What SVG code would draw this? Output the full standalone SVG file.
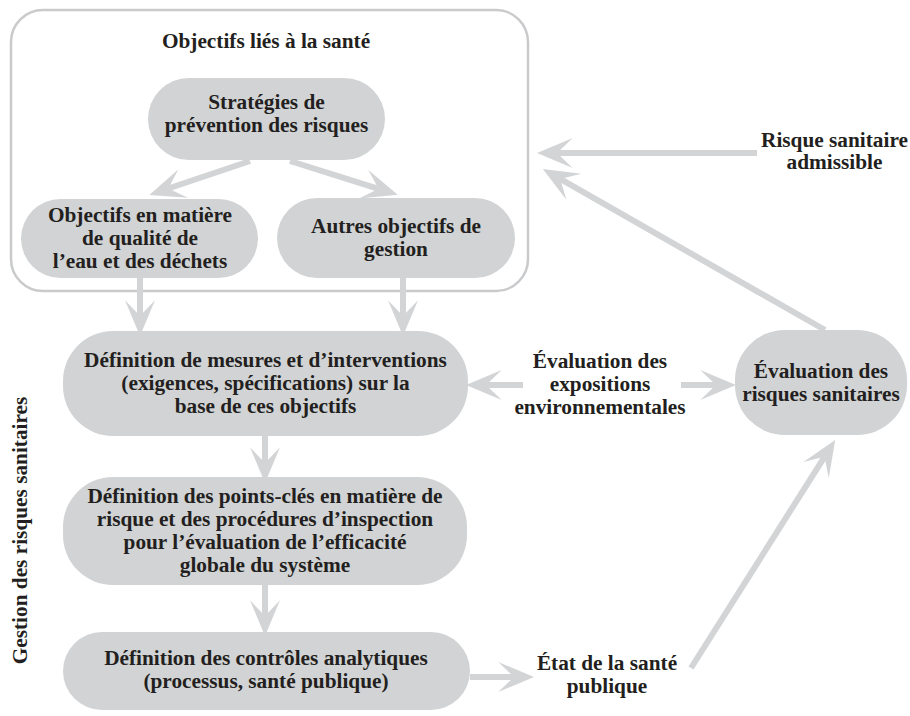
<svg xmlns="http://www.w3.org/2000/svg" width="910" height="716" viewBox="0 0 910 716">
<style>
text{font-family:"Liberation Serif","Times New Roman",serif;font-weight:bold;font-size:21.3px;fill:#231f20;text-anchor:middle}
.node{fill:#d1d3d4}
.frame{fill:none;stroke:#c9cacc;stroke-width:2.5}
.arr{stroke:#d3d4d6;stroke-width:6;fill:none;marker-end:url(#ah)}
</style>
<defs>
<marker id="ah" markerUnits="userSpaceOnUse" markerWidth="40" markerHeight="40" viewBox="-12 -12 28 24" refX="0" refY="0" orient="auto" overflow="visible">
<path d="M14,0 L-11,-10.5 L0,0 L-11,10.5 Z" fill="#d3d4d6"/>
</marker>
</defs>
<rect width="910" height="716" fill="#ffffff"/>
<g id="frame-objectifs">
<rect class="frame" x="11" y="10" width="517" height="281" rx="32"/>
<text x="266" y="48">Objectifs liés à la santé</text>
</g>
<g id="n-strategies">
<rect class="node" x="148" y="78" width="237" height="82" rx="41"/>
<text x="266.5" y="109">Stratégies de</text>
<text x="266.5" y="132">prévention des risques</text>
</g>
<g id="n-qualite">
<rect class="node" x="21" y="199" width="237" height="79" rx="39.5"/>
<text x="140" y="222">Objectifs en matière</text>
<text x="140" y="245">de qualité de</text>
<text x="140" y="268">l’eau et des déchets</text>
</g>
<g id="n-autres">
<rect class="node" x="277" y="198" width="238" height="80" rx="40"/>
<text x="396" y="233">Autres objectifs de</text>
<text x="396" y="256">gestion</text>
</g>
<g id="n-mesures">
<rect class="node" x="63" y="331" width="405" height="105" rx="50"/>
<text x="265.5" y="367">Définition de mesures et d’interventions</text>
<text x="265.5" y="390">(exigences, spécifications) sur la</text>
<text x="265.5" y="413">base de ces objectifs</text>
</g>
<g id="n-points">
<rect class="node" x="63" y="477" width="404" height="108" rx="50"/>
<text x="265" y="503">Définition des points-clés en matière de</text>
<text x="265" y="526">risque et des procédures d’inspection</text>
<text x="265" y="549">pour l’évaluation de l’efficacité</text>
<text x="265" y="572">globale du système</text>
</g>
<g id="n-controles">
<rect class="node" x="63" y="632" width="407" height="78" rx="39"/>
<text x="266" y="665">Définition des contrôles analytiques</text>
<text x="266" y="688">(processus, santé publique)</text>
</g>
<g id="n-evaluation">
<rect class="node" x="735" y="330" width="172" height="105" rx="50"/>
<text x="821" y="378">Évaluation des</text>
<text x="821" y="401">risques sanitaires</text>
</g>
<g id="l-expositions">
<text x="600" y="368">Évaluation des</text>
<text x="600" y="391">expositions</text>
<text x="600" y="414">environnementales</text>
</g>
<g id="l-risque">
<text x="834.5" y="147">Risque sanitaire</text>
<text x="834.5" y="169">admissible</text>
</g>
<g id="l-etat">
<text x="607" y="670">État de la santé</text>
<text x="607" y="693">publique</text>
</g>
<g id="l-gestion">
<text transform="translate(27,530.5) rotate(-90)">Gestion des risques sanitaires</text>
</g>
<g id="connectors">
<path class="arr" d="M250,161 L168.3,188.5"/>
<path class="arr" d="M290,161 L378.6,188.8"/>
<path class="arr" d="M140,278 L140,316"/>
<path class="arr" d="M403,278 L403,316"/>
<path class="arr" d="M265,436 L265,463"/>
<path class="arr" d="M265,585 L265,616"/>
<path class="arr" d="M470,677 L514,677"/>
<path class="arr" d="M523,385 L486,385"/>
<path class="arr" d="M681,385 L716,385"/>
<path class="arr" d="M691,668 L824.5,456.8"/>
<path class="arr" d="M825,330 L560.2,178.9"/>
<path class="arr" d="M757,153 L557,153"/>
</g>
</svg>
